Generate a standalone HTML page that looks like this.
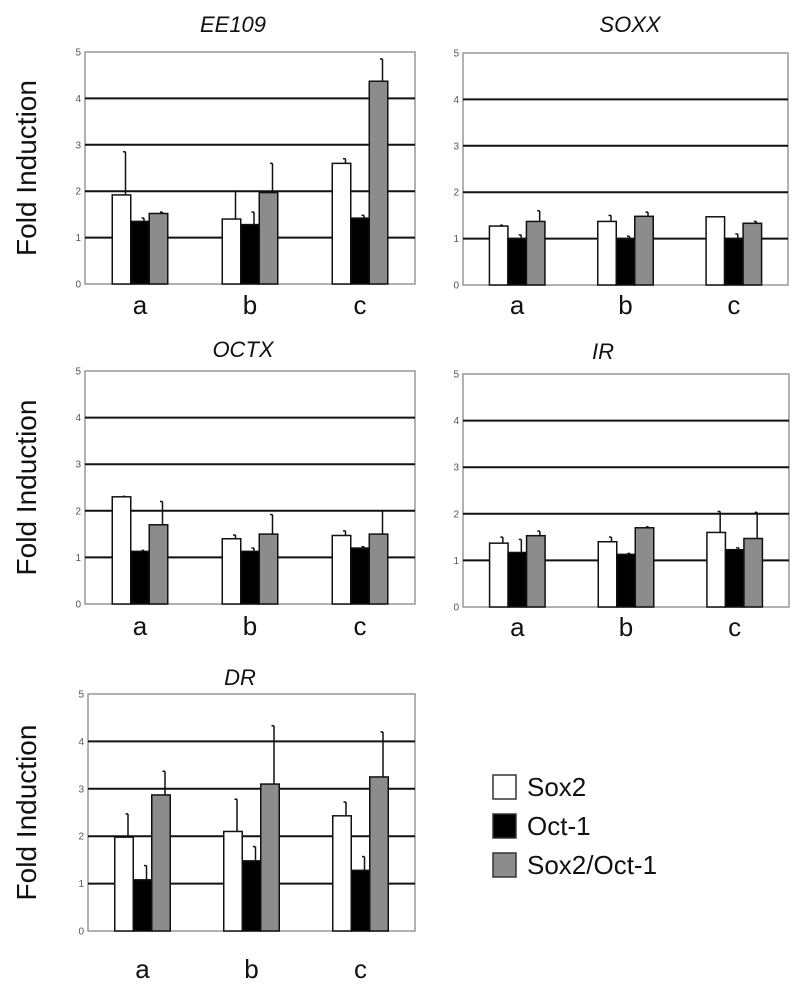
<!DOCTYPE html>
<html><head><meta charset="utf-8"><style>
html,body{margin:0;padding:0;background:#fff;}
svg{display:block;font-family:"Liberation Sans",sans-serif;}
</style></head><body>
<svg id="fig" width="800" height="988" viewBox="0 0 800 988" xmlns="http://www.w3.org/2000/svg"></svg>
<script>
const categories = ["a","b","c"];
const seriesNames = ["Sox2","Oct-1","Sox2/Oct-1"];
const yTicks = [0,1,2,3,4,5];
const panelTitles = ["EE109","SOXX","OCTX","IR","DR"];
// values per panel: [Sox2[], Oct-1[], Sox2/Oct-1[]]
const ee109Vals = [[1.92,1.40,2.60],[1.35,1.28,1.42],[1.52,1.97,4.37]];
const ee109Err  = [[2.85,2.00,2.70],[1.42,1.55,1.48],[1.55,2.60,4.85]];
const soxxVals  = [[1.27,1.37,1.47],[1.00,1.00,1.00],[1.37,1.48,1.33]];
const soxxErr   = [[1.29,1.50,1.47],[1.08,1.05,1.10],[1.60,1.57,1.37]];
const octxVals  = [[2.30,1.40,1.47],[1.13,1.13,1.20],[1.70,1.50,1.50]];
const octxErr   = [[2.31,1.48,1.57],[1.15,1.20,1.23],[2.20,1.92,2.00]];
const irVals    = [[1.37,1.40,1.60],[1.17,1.13,1.23],[1.53,1.70,1.47]];
const irErr     = [[1.50,1.50,2.05],[1.45,1.15,1.27],[1.63,1.72,2.03]];
const drVals    = [[1.98,2.10,2.43],[1.08,1.48,1.28],[2.87,3.10,3.25]];
const drErr     = [[2.47,2.78,2.72],[1.38,1.78,1.57],[3.37,4.33,4.20]];

const NS="http://www.w3.org/2000/svg";
const svg=document.getElementById('fig');
function mk(tag,attrs,parent){const e=document.createElementNS(NS,tag);for(const k in attrs)e.setAttribute(k,attrs[k]);(parent||svg).appendChild(e);return e;}
const fills=["#ffffff","#000000","#8c8c8c"];
const panels=[
 {x0:85,x1:415,y0:52,y1:284,vals:ee109Vals,err:ee109Err,tx:233,ty:32,ly:314,ylab:true,name:"ee109"},
 {x0:463,x1:788,y0:53,y1:285,vals:soxxVals,err:soxxErr,tx:630,ty:32,ly:314,ylab:false,name:"soxx"},
 {x0:85,x1:415,y0:371,y1:604,vals:octxVals,err:octxErr,tx:243,ty:357,ly:635,ylab:true,name:"octx"},
 {x0:463,x1:789,y0:374,y1:607,vals:irVals,err:irErr,tx:603,ty:359,ly:636,ylab:false,name:"ir"},
 {x0:88,x1:415,y0:694,y1:931,vals:drVals,err:drErr,tx:240,ty:685,ly:978,ylab:true,name:"dr"}
];
panels.forEach((p,pi)=>{
  const g=mk('g',{});
  
  
  const yS=v=>p.y1-(v/5)*(p.y1-p.y0);
  const slot=(p.x1-p.x0)/3;
  const xC=i=>p.x0+slot*(i+0.5);
  const bw=18.5;
  const frame=mk('rect',{x:p.x0,y:p.y0,width:p.x1-p.x0,height:p.y1-p.y0,fill:'none',stroke:'#999','stroke-width':1.5},g);
  
  
  yTicks.forEach(t=>{
    if(t>0&&t<5){const l=mk('line',{x1:p.x0,x2:p.x1,y1:yS(t),y2:yS(t),stroke:'#111','stroke-width':2},g);
      
      }
    const tl=mk('text',{x:p.x0-4,y:yS(t)+3.5,'font-size':10,fill:'#555','text-anchor':'end'},g);
    tl.textContent=t;
    
    
  });
  categories.forEach((c,ci)=>{
    for(let s=0;s<3;s++){
      const x=xC(ci)-1.5*bw+s*bw, v=p.vals[s][ci], e=p.err[s][ci];
      const bx=x+bw/2+4;
      if(e>v){
        const el=mk('line',{x1:bx,x2:bx,y1:yS(v),y2:yS(e),stroke:'#111','stroke-width':1.5},g);
        
        
        const cap=mk('line',{x1:bx-2.5,x2:bx,y1:yS(e),y2:yS(e),stroke:'#111','stroke-width':1.5},g);
        
        
      }
      const r=mk('rect',{x:x,y:yS(v),width:bw,height:yS(0)-yS(v),fill:fills[s],stroke:'#111','stroke-width':1.5},g);
      
      
    }
    const cl=mk('text',{x:xC(ci),y:p.ly,'font-size':26,'text-anchor':'middle',fill:'#111'},g);
    cl.textContent=c;
    
    
  });
  const tt=mk('text',{x:p.tx,y:p.ty,'font-size':22,'font-style':'italic','text-anchor':'middle',fill:'#111'},g);
  tt.textContent=panelTitles[pi];
  
  
  if(p.ylab){
    const cy=(p.y0+p.y1)/2;
    const yl=mk('text',{x:36,y:cy,'font-size':28,'text-anchor':'middle',fill:'#111',transform:'rotate(-90 36 '+cy+')'},g);
    yl.textContent='Fold Induction';
    
    
  }
});
const lg=mk('g',{});


seriesNames.forEach((n,i)=>{
  const cy=787+i*39;
  const sw=mk('rect',{x:493,y:cy-12,width:23,height:24,fill:fills[i],stroke:'#333','stroke-width':1.5},lg);
  
  
  const t=mk('text',{x:527,y:cy+9,'font-size':26,fill:'#111'},lg);
  t.textContent=n;
  
  
});
</script>
</body></html>
